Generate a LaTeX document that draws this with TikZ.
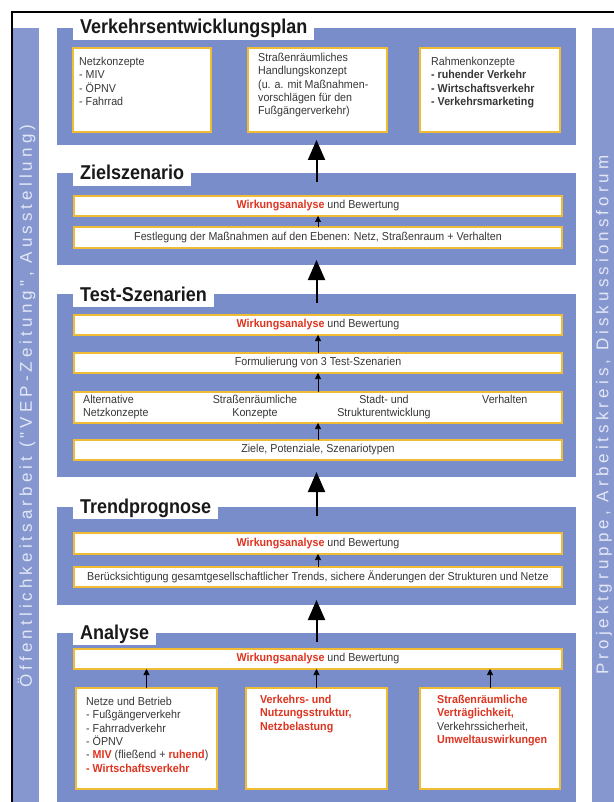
\documentclass[tikz,border=0pt]{standalone}
\usepackage{fontspec}
\setmainfont{Liberation Sans}
\newfontfamily\boxfont[FakeStretch=0.93]{Liberation Sans}
\newfontfamily\titlefont[FakeStretch=0.9]{Liberation Sans}
\newfontfamily\sidefont[LetterSpace=24]{Liberation Sans}
\usetikzlibrary{arrows.meta}
\definecolor{blockblue}{RGB}{122,141,203}
\definecolor{sideblue}{RGB}{134,151,207}
\definecolor{gold}{RGB}{240,188,52}
\definecolor{txtgray}{RGB}{55,55,55}
\definecolor{redtxt}{RGB}{222,52,32}
\definecolor{sidetxt}{RGB}{226,231,246}
\newcommand{\rb}[1]{\textcolor{redtxt}{\bfseries #1}}
\newcommand{\wab}{\rb{Wirkungsanalyse} und Bewertung}
\tikzset{
  blk/.style={fill=blockblue, inner sep=0pt, outer sep=0pt, anchor=north west, minimum width=519pt},
  sidebar/.style={fill=sideblue, inner sep=0pt, outer sep=0pt, anchor=north west, minimum width=26pt, minimum height=790pt},
  ibox/.style={draw=gold, line width=2.2pt, fill=white, inner sep=0pt, outer sep=0pt, anchor=north west,
    font=\boxfont\fontsize{11.5}{13.3}\selectfont, text=txtgray},
  wbox/.style={ibox, minimum width=488pt},
  ttl/.style={font=\titlefont\bfseries\fontsize{20}{24}\selectfont, text=black!90, fill=white,
    inner xsep=7pt, inner ysep=0pt, text height=18pt, text depth=6pt, anchor=base west},
  btxt/.style={font=\boxfont\fontsize{11.5}{13.3}\selectfont, text=txtgray, inner sep=0pt},
  bigarr/.style={line width=2pt, -{Triangle[width=17pt,length=20pt]}},
  smallarr/.style={line width=0.6pt, -{Triangle[width=6pt,length=6pt]}},
  sidetext/.style={font=\sidefont\fontsize{17}{20}\selectfont, text=sidetxt, rotate=90, inner sep=0pt}
}
\begin{document}
\begin{tikzpicture}[x=1pt,y=-1pt]
\useasboundingbox[fill=white] (0,0) rectangle (613,802);
% sidebars
\node[sidebar] (sl) at (13,28) {};
\node[sidebar] (sr) at (592,28) {};
\node[sidetext] (slt) at (26.5,406) {Öffentlichkeitsarbeit ("VEP-Zeitung", Ausstellung)};
\node[sidetext] (srt) at (604,415) {Projektgruppe, Arbeitskreis, Diskussionsforum};
% frame
\draw[line width=1.2pt] (12,815) -- (12,12) -- (620,12);

% Block 1
\node[blk, minimum height=117pt] (b1) at (57,28) {};
\node[ttl] (h1) at (73,34) {Verkehrsentwicklungsplan};
\node[ibox, minimum width=138pt, minimum height=84pt] (b1a) at (73,48) {};
\node[ibox, minimum width=139pt, minimum height=84pt] (b1b) at (248,48) {};
\node[ibox, minimum width=140pt, minimum height=84pt] (b1c) at (420,48) {};
\node[btxt, anchor=north west, align=left] (x1a) at (79,57) {Netzkonzepte\\- MIV\\- ÖPNV\\- Fahrrad};
\node[btxt, anchor=north west, align=left] (x1b) at (258,53) {Straßenräumliches\\Handlungskonzept\\(u. a. mit Maßnahmen-\\vorschlägen für den\\Fußgängerverkehr)};
\node[btxt, anchor=north west, align=left] (x1c) at (431,57) {Rahmenkonzepte\\{\bfseries - ruhender Verkehr}\\{\bfseries - Wirtschaftsverkehr}\\{\bfseries - Verkehrsmarketing}};

% Block 2
\node[blk, minimum height=92pt] (b2) at (57,173) {};
\node[ttl] (h2) at (73,180) {Zielszenario};
\node[wbox, minimum height=20pt] (b2w) at (74,196) {\wab};
\node[wbox, minimum height=21pt] (b2f) at (74,227) {Festlegung der Maßnahmen auf den Ebenen: Netz, Straßenraum + Verhalten};
\draw[smallarr] (b2f.north) -- (b2w.south);

% Block 3
\node[blk, minimum height=183pt] (b3) at (57,294) {};
\node[ttl] (h3) at (73,301) {Test-Szenarien};
\node[wbox, minimum height=20pt] (b3w) at (74,315) {\wab};
\node[wbox, minimum height=20pt] (b3f) at (74,353) {Formulierung von 3 Test-Szenarien};
\node[wbox, minimum height=31pt] (b3a) at (74,392) {};
\node[wbox, minimum height=20pt] (b3z) at (74,440) {Ziele, Potenziale, Szenariotypen};
\node[btxt, anchor=north west, align=left] (x3a1) at (83,395) {Alternative\\Netzkonzepte};
\node[btxt, anchor=north, align=center] (x3a2) at (255,395) {Straßenräumliche\\Konzepte};
\node[btxt, anchor=north, align=center] (x3a3) at (384,395) {Stadt- und\\Strukturentwicklung};
\node[btxt, anchor=north west, align=left] (x3a4) at (482,395) {Verhalten};
\draw[smallarr] (b3f.north) -- (b3w.south);
\draw[smallarr] (b3a.north) -- (b3f.south);
\draw[smallarr] (b3z.north) -- (b3a.south);

% Block 4
\node[blk, minimum height=98pt] (b4) at (57,507) {};
\node[ttl] (h4) at (73,513) {Trendprognose};
\node[wbox, minimum height=21pt] (b4w) at (74,533) {\wab};
\node[wbox, minimum height=20pt] (b4b) at (74,567) {Berücksichtigung gesamtgesellschaftlicher Trends, sichere Änderungen der Strukturen und Netze};
\draw[smallarr] (b4b.north) -- (b4w.south);

% Block 5
\node[blk, minimum height=185pt] (b5) at (57,633) {};
\node[ttl] (h5) at (73,639) {Analyse};
\node[wbox, minimum height=20pt] (b5w) at (74,649) {\wab};
\node[ibox, minimum width=141pt, minimum height=101pt] (b5a) at (76,688) {};
\node[ibox, minimum width=141pt, minimum height=101pt] (b5b) at (246,688) {};
\node[ibox, minimum width=140pt, minimum height=101pt] (b5c) at (420,688) {};
\node[btxt, anchor=north west, align=left] (x5a) at (86,697) {Netze und Betrieb\\- Fußgängerverkehr\\- Fahrradverkehr\\- ÖPNV\\- \rb{MIV} (fließend + \rb{ruhend})\\\rb{- Wirtschaftsverkehr}};
\node[btxt, anchor=north west, align=left] (x5b) at (260,695) {\rb{Verkehrs- und}\\\rb{Nutzungsstruktur,}\\\rb{Netzbelastung}};
\node[btxt, anchor=north west, align=left] (x5c) at (437,695) {\rb{Straßenräumliche}\\\rb{Verträglichkeit,}\\Verkehrssicherheit,\\\rb{Umweltauswirkungen}};
\draw[smallarr] (b5a.north) -- (b5a.north |- b5w.south);
\draw[smallarr] (b5b.north) -- (b5b.north |- b5w.south);
\draw[smallarr] (b5c.north) -- (b5c.north |- b5w.south);

% big arrows
\draw[bigarr] ([yshift=-9pt]b2.north) -- ([yshift=5pt]b1.south);
\draw[bigarr] ([yshift=-9pt]b3.north) -- ([yshift=5pt]b2.south);
\draw[bigarr] ([yshift=-9pt]b4.north) -- ([yshift=5pt]b3.south);
\draw[bigarr] ([yshift=-9pt]b5.north) -- ([yshift=5pt]b4.south);
\end{tikzpicture}
\end{document}
